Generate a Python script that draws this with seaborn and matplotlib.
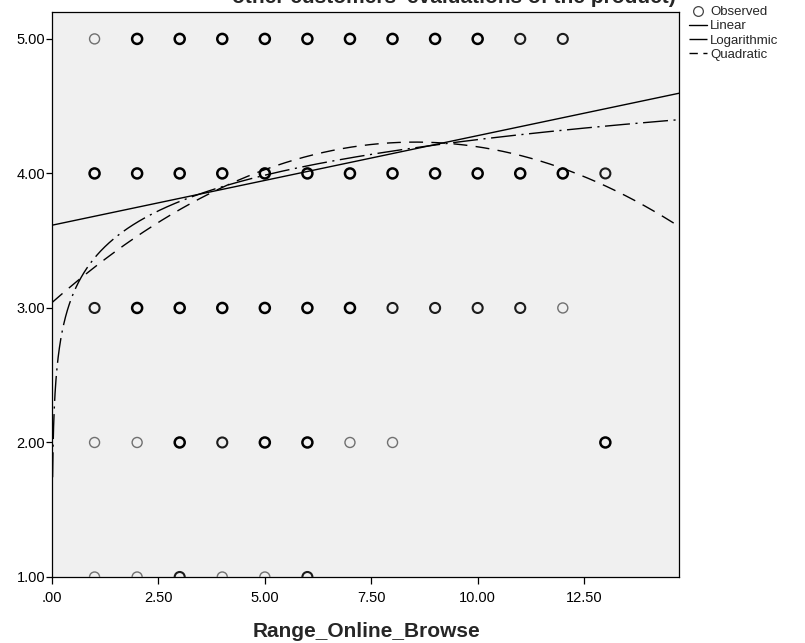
import numpy as np
import pandas as pd
import matplotlib
matplotlib.use("Agg")
import matplotlib.pyplot as plt
from matplotlib import font_manager
from matplotlib.markers import MarkerStyle
from matplotlib.lines import Line2D
import seaborn as sns

# ---------------- data ----------------
# Observed points (x, y) with a rough overlap count (darker = more cases)
obs_x = [1, 2, 3, 4, 5, 6, 7, 8, 9, 10, 11, 12,
         1, 2, 3, 4, 5, 6, 7, 8, 9, 10, 11, 12, 13,
         1, 2, 3, 4, 5, 6, 7, 8, 9, 10, 11, 12,
         1, 2, 3, 4, 5, 6, 7, 8, 13,
         1, 2, 3, 4, 5, 6]
obs_y = [5] * 12 + [4] * 13 + [3] * 12 + [2] * 9 + [1] * 6
obs_n = [1, 3, 3, 3, 3, 3, 3, 3, 3, 3, 2, 2,
         3, 3, 3, 3, 3, 3, 3, 3, 3, 3, 3, 3, 2,
         2, 3, 3, 3, 3, 3, 3, 2, 2, 2, 2, 1,
         1, 1, 3, 2, 3, 3, 1, 1, 3,
         1, 1, 2, 1, 1, 2]

# Fitted model coefficients (curve estimation)
linear_coef = [3.615, 0.0666]             # b0, b1
log_coef = [3.372, 0.382]                 # b0, b1 * ln(x)
quad_coef = [3.04, 0.2794, -0.01636]      # b0, b1, b2

x_min, x_max = 0.0, 14.73
y_min, y_max = 1.0, 5.2
x_ticks = [0, 2.5, 5, 7.5, 10, 12.5]
x_tick_labels = [".00", "2.50", "5.00", "7.50", "10.00", "12.50"]
y_ticks = [1, 2, 3, 4, 5]
y_tick_labels = ["1.00", "2.00", "3.00", "4.00", "5.00"]
legend_labels = ["Observed", "Linear", "Logarithmic", "Quadratic"]
title_text = "other customers' evaluations of the product)"
x_label = "Range_Online_Browse"

# ---------------- style ----------------
sns.set_theme(style="white")
plt.rcParams["font.family"] = ["Liberation Sans", "DejaVu Sans"]

try:
    font_manager.findfont("Liberation Sans Narrow", fallback_to_default=False)
    tick_family, tick_size = ["Liberation Sans Narrow", "Liberation Sans"], 12
except Exception:
    tick_family, tick_size = ["Liberation Sans", "DejaVu Sans"], 10.5

W, H = 805, 643
fig = plt.figure(figsize=(W / 100, H / 100), dpi=100)
ax = fig.add_axes([52 / W, 1 - 577 / H, (679 - 52) / W, (577 - 12) / H])
ax.set_facecolor("#F0F0F0")

df = pd.DataFrame({"x": obs_x, "y": obs_y, "n": obs_n})
styles = {1: ("#707070", 1.0), 2: ("#1c1c1c", 1.5), 3: ("#000000", 1.8)}
hollow = MarkerStyle("o", fillstyle="none")
for n, (col, lw) in styles.items():
    sub = df[df["n"] == n]
    sns.scatterplot(data=sub, x="x", y="y", ax=ax, marker=hollow, color=col,
                    s=52, linewidth=lw, legend=False, zorder=3)

# fitted curves
xs_lin = np.linspace(x_min, x_max, 200)
xs_log = np.geomspace(0.014, x_max, 600)
lin_df = pd.DataFrame({"x": xs_lin, "y": linear_coef[0] + linear_coef[1] * xs_lin})
log_df = pd.DataFrame({"x": xs_log, "y": log_coef[0] + log_coef[1] * np.log(xs_log)})
quad_df = pd.DataFrame({"x": xs_lin,
                        "y": quad_coef[0] + quad_coef[1] * xs_lin + quad_coef[2] * xs_lin ** 2})

sns.lineplot(data=lin_df, x="x", y="y", ax=ax, color="black", linewidth=1.0,
             sort=False, estimator=None, zorder=4)
sns.lineplot(data=log_df, x="x", y="y", ax=ax, color="black", linewidth=1.0,
             sort=False, estimator=None, zorder=4)
ax.lines[-1].set_dashes((18, 4, 1.5, 4))
sns.lineplot(data=quad_df, x="x", y="y", ax=ax, color="black", linewidth=1.0,
             sort=False, estimator=None, zorder=4)
ax.lines[-1].set_dashes((10, 6))

ax.set_xlim(x_min, x_max)
ax.set_ylim(y_min, y_max)
ax.set_xticks(x_ticks)
ax.set_xticklabels(x_tick_labels)
ax.set_yticks(y_ticks)
ax.set_yticklabels(y_tick_labels)
ax.tick_params(axis="both", which="major", direction="out", length=4, width=0.9,
               color="black", labelsize=tick_size, labelcolor="black", pad=1,
               bottom=True, left=True)
ax.tick_params(axis="x", length=5, pad=5)
for lbl in ax.get_xticklabels() + ax.get_yticklabels():
    lbl.set_family(tick_family)
for sp in ax.spines.values():
    sp.set_visible(True)
    sp.set_color("black")
    sp.set_linewidth(0.9)

ax.set_xlabel("")
ax.set_ylabel("")
fig.text(366 / W, 1 - 637 / H, x_label, fontsize=15, fontweight="bold",
         ha="center", va="baseline")

fig.text(232 / W, 1 - 3 / H, title_text, fontsize=15, fontweight="bold",
         ha="left", va="baseline")

handles = [
    Line2D([], [], linestyle="none", marker=hollow, markersize=7,
           markeredgecolor="#444444", markeredgewidth=0.9),
    Line2D([], [], color="black", linewidth=1.0),
    Line2D([], [], color="black", linewidth=1.0, dashes=(16, 4, 1.5, 4)),
    Line2D([], [], color="black", linewidth=1.0, dashes=(6, 4)),
]
fig.legend(handles, legend_labels, loc="upper left",
           bbox_to_anchor=(689 / W, 1 - 6 / H), frameon=False, fontsize=9.5,
           handlelength=1.4, handletextpad=0.2, labelspacing=0.15,
           borderpad=0, borderaxespad=0)

fig.savefig("out.png", dpi=100, facecolor="white")
